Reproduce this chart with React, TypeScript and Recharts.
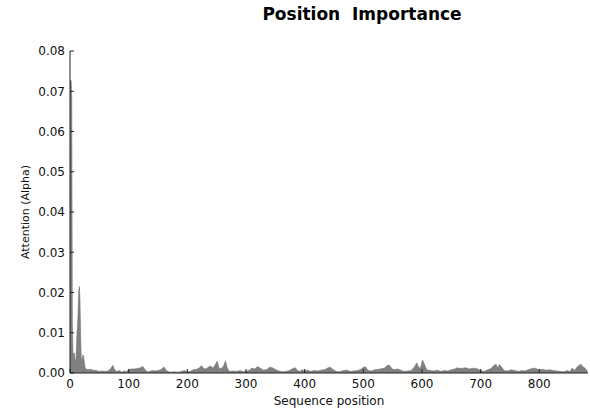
import React from "react";
import { AreaChart, Area, XAxis, YAxis } from "recharts";

const positions = [
  0, 1, 2, 3, 4, 5, 6, 7, 8, 9, 10, 11, 12, 13, 14, 15, 16, 17, 18, 19, 20, 21, 22, 23, 24, 25, 26, 28, 30, 35,
  40, 45, 50, 55, 60, 65, 70, 73, 76, 80, 85, 88, 92, 96, 100, 105, 110, 115, 120, 124, 128, 132, 136, 140, 145,
  150, 155, 160, 164, 168, 172, 178, 184, 190, 195, 200, 205, 210, 215, 220, 224, 228, 232, 236, 240, 244, 248,
  251, 254, 258, 262, 265, 268, 272, 278, 284, 290, 296, 300, 305, 310, 315, 320, 325, 330, 336, 340, 345, 350,
  356, 362, 368, 374, 380, 384, 388, 392, 396, 400, 405, 410, 416, 422, 428, 434, 440, 444, 448, 454, 460, 466,
  472, 478, 484, 490, 496, 500, 504, 508, 514, 520, 526, 532, 536, 540, 544, 548, 552, 558, 564, 570, 576, 582,
  588, 591, 595, 598, 601, 604, 608, 614, 620, 626, 632, 638, 644, 650, 656, 660, 665, 670, 675, 680, 685, 690,
  695, 700, 706, 712, 718, 722, 726, 729, 732, 736, 740, 746, 752, 758, 764, 770, 776, 782, 788, 792, 796, 800,
  806, 812, 818, 824, 830, 836, 842, 848, 852, 856, 860, 864, 868, 871, 874, 878, 882,
];

const alphaValues = [
  0.0728, 0.0728, 0.0725, 0.068, 0.012, 0.005, 0.0045, 0.005, 0.004, 0.0028, 0.003, 0.006, 0.01, 0.012, 0.016,
  0.0205, 0.0215, 0.018, 0.01, 0.004, 0.003, 0.0035, 0.0045, 0.0042, 0.003, 0.002, 0.0012, 0.001, 0.0008, 0.0009,
  0.0007, 0.0006, 0.0004, 0.0005, 0.0004, 0.0005, 0.0012, 0.0019, 0.0008, 0.0004, 0.0006, 0.0002, 0.0005, 0.0003,
  0.0009, 0.001, 0.001, 0.0011, 0.0013, 0.0016, 0.0008, 0.0003, 0.0004, 0.0006, 0.0005, 0.0006, 0.0008, 0.0015,
  0.0007, 0.0003, 0.0002, 0.0003, 0.0002, 0.0004, 0.0006, 0.0003, 0.0004, 0.0008, 0.0009, 0.0012, 0.0018, 0.0011,
  0.001, 0.0015, 0.0017, 0.0012, 0.0022, 0.0029, 0.0012, 0.0011, 0.0018, 0.003, 0.0012, 0.0004, 0.0005, 0.0004,
  0.0006, 0.0003, 0.0005, 0.0006, 0.0012, 0.001, 0.0016, 0.0011, 0.0007, 0.0009, 0.0014, 0.0013, 0.0009, 0.0005,
  0.0003, 0.0004, 0.0006, 0.0011, 0.0013, 0.0006, 0.0004, 0.0008, 0.0005, 0.0007, 0.0004, 0.0006, 0.0005, 0.0007,
  0.0008, 0.0013, 0.0014, 0.0009, 0.0004, 0.0003, 0.0006, 0.0007, 0.0004, 0.0005, 0.0006, 0.0009, 0.0014, 0.0015,
  0.0006, 0.0005, 0.0008, 0.0009, 0.0011, 0.0012, 0.0018, 0.002, 0.0012, 0.0008, 0.001, 0.0007, 0.0004, 0.0005,
  0.0006, 0.0017, 0.0025, 0.0012, 0.0015, 0.0032, 0.0022, 0.0008, 0.0006, 0.0005, 0.0007, 0.0004, 0.0006, 0.0005,
  0.0008, 0.001, 0.0013, 0.0011, 0.0012, 0.0013, 0.001, 0.0011, 0.0012, 0.001, 0.0006, 0.0004, 0.0008, 0.0011,
  0.0018, 0.0022, 0.0012, 0.0021, 0.0014, 0.0006, 0.0005, 0.0008, 0.0006, 0.0004, 0.0006, 0.0005, 0.0009, 0.0011,
  0.0012, 0.001, 0.0008, 0.0009, 0.0007, 0.0008, 0.0006, 0.0005, 0.0004, 0.0003, 0.0006, 0.0003, 0.0012, 0.0006,
  0.0014, 0.0019, 0.0022, 0.0016, 0.0012, 0.0005,
];

const xTicks = [0, 100, 200, 300, 400, 500, 600, 700, 800];
const yTicks = [0, 0.01, 0.02, 0.03, 0.04, 0.05, 0.06, 0.07, 0.08];

const data = positions.map((p, i) => ({ pos: p, alpha: alphaValues[i] }));

const FONT = "'DejaVu Sans', Verdana, sans-serif";

export default function App() {
  return (
    <div style={{ position: "absolute", left: 0, top: 0, width: 590, height: 413, background: "#fff" }}>
      <div
        style={{
          position: "absolute",
          left: 212,
          top: 4,
          width: 300,
          textAlign: "center",
          fontFamily: FONT,
          fontWeight: "bold",
          fontSize: 17,
          color: "#000",
          whiteSpace: "pre",
        }}
      >
        Position  Importance
      </div>
      <AreaChart width={590} height={413} data={data} margin={{ top: 51, right: 2, bottom: 0, left: 0 }}>
        <XAxis
          dataKey="pos"
          type="number"
          domain={[0, 883]}
          ticks={xTicks}
          allowDataOverflow
          height={40}
          stroke="#222"
          tickSize={-4}
          tickMargin={10}
          tick={{ fill: "#111", fontSize: 12, fontFamily: FONT }}
          label={{ value: "Sequence position", position: "insideBottom", offset: 8, fill: "#111", fontSize: 12, fontFamily: FONT }}
        />
        <YAxis
          type="number"
          domain={[0, 0.08]}
          ticks={yTicks}
          allowDataOverflow
          width={70}
          stroke="#222"
          tickSize={-4}
          tickMargin={9}
          tickFormatter={(v: number) => v.toFixed(2)}
          tick={{ fill: "#111", fontSize: 12, fontFamily: FONT }}
          label={{
            value: "Attention (Alpha)",
            angle: -90,
            position: "insideLeft",
            offset: 25,
            style: { textAnchor: "middle" },
            fill: "#111",
            fontSize: 11,
            fontFamily: FONT,
          }}
        />
        <Area
          type="linear"
          dataKey="alpha"
          stroke="#6e6e6e"
          strokeWidth={0.6}
          fill="#808080"
          fillOpacity={1}
          isAnimationActive={false}
          dot={false}
          activeDot={false}
        />
      </AreaChart>
    </div>
  );
}
